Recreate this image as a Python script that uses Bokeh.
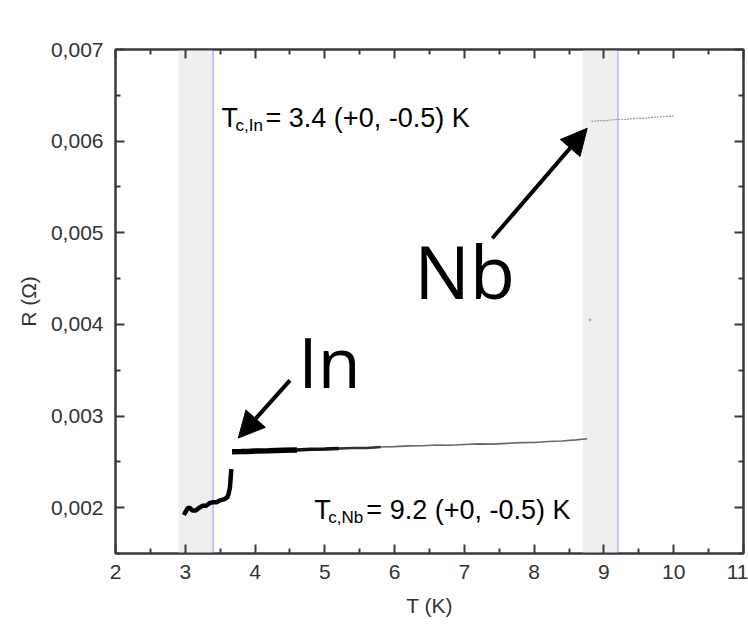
from bokeh.plotting import figure
from bokeh.models import (LinearAxis, FixedTicker, CustomJSTickFormatter, BoxAnnotation,
                          Span, Arrow, NormalHead, Label, Range1d)
from bokeh.embed import file_html
from bokeh.resources import INLINE

# ---------------- data ----------------
# In: superconducting branch below the transition
T_in = [2.98, 3.00, 3.03, 3.06, 3.10, 3.15, 3.20, 3.25, 3.30, 3.35, 3.40, 3.45,
        3.50, 3.55, 3.60, 3.62, 3.64, 3.65, 3.66]
R_in = [0.00192, 0.00195, 0.00199, 0.00200, 0.00197, 0.00197, 0.00200, 0.00202,
        0.00202, 0.00205, 0.00206, 0.00206, 0.00208, 0.00209, 0.00211, 0.00215,
        0.00222, 0.00232, 0.00242]

# normal state between the two transitions
T_flat = [3.67, 3.80, 3.90, 4.00, 4.20, 4.40, 4.60, 4.80, 5.00, 5.20, 5.40, 5.60,
          5.80, 6.00, 6.20, 6.40, 6.60, 6.80, 7.00, 7.20, 7.40, 7.60, 7.80, 8.00,
          8.20, 8.40, 8.60, 8.76]
R_flat = [0.002610, 0.002612, 0.002614, 0.002618, 0.002622, 0.002627, 0.002630,
          0.002638, 0.002640, 0.002646, 0.002652, 0.002650, 0.002662, 0.002666,
          0.002674, 0.002676, 0.002684, 0.002682, 0.002690, 0.002696, 0.002694,
          0.002702, 0.002710, 0.002712, 0.002722, 0.002728, 0.002740, 0.002752]

# Nb normal state above its transition
T_nb = [8.82, 8.88, 8.95, 9.02, 9.10, 9.18, 9.25, 9.33, 9.40, 9.48, 9.55, 9.62,
        9.70, 9.78, 9.85, 9.92, 10.00]
R_nb = [0.006215, 0.006220, 0.006224, 0.006222, 0.006230, 0.006236, 0.006240,
        0.006236, 0.006245, 0.006250, 0.006248, 0.006255, 0.006260, 0.006262,
        0.006268, 0.006270, 0.006275]

# stray point
T_stray = [8.80]
R_stray = [0.00405]

# transition bands
band_left = [2.9, 8.7]
band_right = [3.4, 9.2]
Tc = [3.4, 9.2]

x_ticks = [2, 3, 4, 5, 6, 7, 8, 9, 10, 11]
x_minor = [2.5, 3.5, 4.5, 5.5, 6.5, 7.5, 8.5, 9.5, 10.5]
y_ticks = [0.002, 0.003, 0.004, 0.005, 0.006, 0.007]
y_minor = [0.0015, 0.0025, 0.0035, 0.0045, 0.0055, 0.0065]

FONT = "Liberation Sans"
AXC = "#3a3a3a"

p = figure(width=748, height=625, output_backend="svg", toolbar_location=None,
           x_range=Range1d(2, 11), y_range=Range1d(0.0015, 0.007),
           min_border_left=115, min_border_right=5, min_border_top=49,
           min_border_bottom=72)
p.grid.visible = False
p.outline_line_color = AXC
p.outline_line_width = 2
p.background_fill_color = "white"
p.border_fill_color = "white"

xt = FixedTicker(ticks=x_ticks, minor_ticks=x_minor)
yt = FixedTicker(ticks=y_ticks, minor_ticks=y_minor)
yfmt = CustomJSTickFormatter(code="return tick.toFixed(3).replace('.', ',');")
blank = CustomJSTickFormatter(code="return '';")


def style(ax):
    ax.axis_line_color = AXC
    ax.axis_line_width = 2
    ax.major_tick_line_color = AXC
    ax.minor_tick_line_color = AXC
    ax.major_tick_line_width = 2
    ax.minor_tick_line_width = 2
    ax.major_tick_in = 9
    ax.major_tick_out = 0
    ax.minor_tick_in = 5
    ax.minor_tick_out = 0
    ax.major_label_text_font = FONT
    ax.major_label_text_font_size = "21px"
    ax.major_label_text_color = "#333333"
    ax.axis_label_text_font = FONT
    ax.axis_label_text_font_size = "21px"
    ax.axis_label_text_font_style = "normal"
    ax.axis_label_text_color = "#333333"


xa = p.xaxis[0]
xa.ticker = xt
xa.axis_label = "T (K)"
style(xa)
xa.major_label_standoff = 11
xa.axis_label_standoff = 12

ya = p.yaxis[0]
ya.ticker = yt
ya.formatter = yfmt
ya.axis_label = "R (Ω)"
style(ya)
ya.major_label_standoff = 12
ya.axis_label_standoff = 8

top = LinearAxis(ticker=xt, formatter=blank)
style(top)
top.major_label_text_font_size = "0px"
top.major_label_standoff = 0
p.add_layout(top, "above")

right = LinearAxis(ticker=yt, formatter=blank)
style(right)
right.major_label_text_font_size = "0px"
right.major_label_standoff = 0
p.add_layout(right, "right")

# bands and Tc lines
for l, r in zip(band_left, band_right):
    p.add_layout(BoxAnnotation(left=l, right=r, fill_color="#efefed", fill_alpha=1,
                               line_color=None, level="underlay"))
for t in Tc:
    p.add_layout(Span(location=t, dimension="height", line_color="#b8b8f2",
                      line_width=1.6, level="underlay"))

# data
p.line(T_in, R_in, line_color="black", line_width=4.5)
p.line(T_flat, R_flat, line_color="#6a6a6a", line_width=1.6)
p.line(T_flat[:13], R_flat[:13], line_color="#333333", line_width=2.5)
p.line(T_flat[:10], R_flat[:10], line_color="#111111", line_width=3.5)
p.line(T_flat[:7], R_flat[:7], line_color="black", line_width=5.5)
p.line(T_nb, R_nb, line_color="#9a9a9a", line_width=1.2, line_dash="2 1")
p.scatter(T_stray, R_stray, size=2, color="#aaaaaa")

# arrows
p.add_layout(Arrow(end=NormalHead(size=26, fill_color="black", line_color="black"),
                   x_start=4.50, y_start=0.00339, x_end=3.76, y_end=0.00276,
                   line_width=4, line_color="black"))
p.add_layout(Arrow(end=NormalHead(size=26, fill_color="black", line_color="black"),
                   x_start=7.40, y_start=0.00494, x_end=8.76, y_end=0.00614,
                   line_width=4, line_color="black"))

# big labels
p.add_layout(Label(x=4.62, y=0.003284, y_offset=29, text="In", text_font="Open Sans",
                   text_font_size="70px", text_color="black",
                   text_baseline="alphabetic"))
p.add_layout(Label(x=6.28, y=0.004265, y_offset=30, text="Nb", text_font="Open Sans",
                   text_font_size="74px", text_color="black",
                   text_baseline="alphabetic"))


# Tc labels
def tc_label(x, y, sub, rest, rest_dx):
    p.add_layout(Label(x=x, y=y, y_offset=10, text="T", text_font=FONT,
                       text_font_size="27px", text_color="black",
                       text_baseline="alphabetic"))
    p.add_layout(Label(x=x, y=y, x_offset=14, y_offset=2, text=sub, text_font=FONT,
                       text_font_size="17px", text_color="black",
                       text_baseline="alphabetic"))
    p.add_layout(Label(x=x, y=y, x_offset=rest_dx, y_offset=10, text=rest,
                       text_font=FONT, text_font_size="27px", text_color="black",
                       text_baseline="alphabetic"))


tc_label(3.52, 0.006144, "c,In", "= 3.4 (+0, -0.5) K", 44)
tc_label(4.85, 0.001866, "c,Nb", "= 9.2 (+0, -0.5) K", 52)

open("out.html", "w").write(file_html(p, INLINE))
